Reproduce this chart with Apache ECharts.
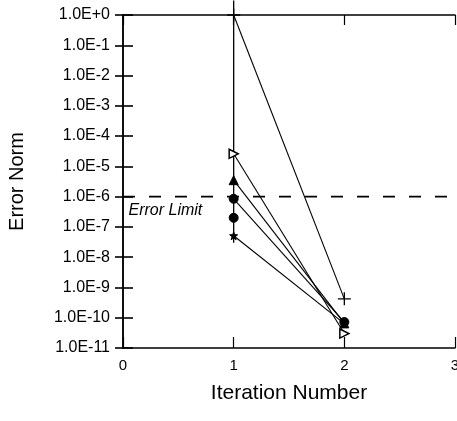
<!DOCTYPE html>
<html>
<head>
<meta charset="utf-8">
<script src="https://cdn.jsdelivr.net/npm/echarts@6/dist/echarts.min.js"></script>
<style>
html,body{margin:0;padding:0;background:#fff;}
#chart{width:457px;height:421px;}
</style>
</head>
<body>
<div id="chart"></div>
<script>
// values
var iterations = [1, 2];
var plusData = [1.0, 4.2e-10];
var triRightData = [2.6e-5, 3.0e-11];
var triUpData = [3.5e-6, 6.5e-11];
var diamondData = [8.5e-7, 7.2e-11];
var circleData = [2.0e-7];
var starData = [5.1e-8, 6.4e-11];
var barAtOne = [3.0, 3.0e-8];     // vertical line through iteration 1
var errorLimit = 1e-6;
var xRange = [0, 3];

var plusPath = 'path://M0,5L10,5M5,0L5,10';
var starPath = 'path://M5,0L6.2,3.6L10,3.8L7,6.1L8.1,10L5,7.7L1.9,10L3,6.1L0,3.8L3.8,3.6Z';
var fontName = '"Liberation Sans", Arial, sans-serif';

function pairs(vals){
	var out = [];
	for(var i=0; i<vals.length; i++) out.push([iterations[i], vals[i]]);
	return out;
}

function mkseries(name, vals, symbol, size, extra){
	var s = {
		name: name,
		type: 'line',
		data: pairs(vals),
		symbol: symbol,
		symbolSize: size,
		showAllSymbol: true,
		lineStyle: {color: '#000', width: 1.1},
		itemStyle: {color: '#000', borderColor: '#000', borderWidth: 1},
		z: 5
	};
	for(var k in extra) s[k] = extra[k];
	return s;
}

var myChart = echarts.init(document.getElementById('chart'));

var option = {
	animation: false,
	backgroundColor: '#fff',
	grid: {left: 123, right: 2, top: 15, bottom: 73, containLabel: false, outerBoundsMode: 'none'},
	xAxis: [{
		type: 'value', min: xRange[0], max: xRange[1], interval: 1,
		name: 'Iteration Number', nameLocation: 'middle', nameGap: 35,
		nameTextStyle: {fontFamily: fontName, fontSize: 21, color: '#000'},
		axisLine: {lineStyle: {color: '#000', width: 1.5}},
		axisTick: {inside: true, length: 11, lineStyle: {color: '#000', width: 1.2}},
		axisLabel: {fontFamily: fontName, fontSize: 15, color: '#000', margin: 10},
		splitLine: {show: false}
	}, {
		type: 'value', min: xRange[0], max: xRange[1], interval: 1, position: 'top',
		axisLine: {lineStyle: {color: '#000', width: 1.5}},
		axisTick: {inside: true, length: 10, lineStyle: {color: '#000', width: 1.2}},
		axisLabel: {show: false},
		splitLine: {show: false}
	}],
	yAxis: [{
		type: 'log', logBase: 10, min: 1e-11, max: 1, interval: 1,
		name: 'Error Norm', nameLocation: 'middle', nameGap: 96, nameRotate: 90,
		nameTextStyle: {fontFamily: fontName, fontSize: 20, color: '#000'},
		axisLine: {lineStyle: {color: '#000', width: 1.5}},
		axisTick: {inside: true, length: 10, lineStyle: {color: '#000', width: 1.6}},
		axisLabel: {
			fontFamily: fontName, fontSize: 16, color: '#000', margin: 13,
			formatter: function(v){
				var e = Math.round(Math.log(v) / Math.LN10);
				return '1.0E' + (e >= 0 ? '+' + e : e);
			}
		},
		splitLine: {show: false}
	}, {
		type: 'log', logBase: 10, min: 1e-11, max: 1, interval: 1, position: 'right',
		axisLine: {lineStyle: {color: '#000', width: 1.5}},
		axisTick: {inside: true, length: 8, lineStyle: {color: '#000', width: 1.6}},
		axisLabel: {show: false},
		splitLine: {show: false}
	}],
	series: [
		{
			name: 'bar1', type: 'line', data: [[1, barAtOne[0]], [1, barAtOne[1]]], symbol: 'none',
			clip: false, lineStyle: {color: '#000', width: 1.3}, z: 4
		},
		{
			name: 'limit', type: 'line',
			data: [
				{value: [xRange[0], errorLimit], label: {
					show: true, position: 'right', distance: 5, offset: [0, 14],
					formatter: 'Error Limit', fontFamily: fontName, fontSize: 16,
					fontStyle: 'italic', color: '#000'
				}},
				[xRange[1], errorLimit]
			],
			symbol: 'circle', symbolSize: 1, showAllSymbol: true,
			itemStyle: {color: 'rgba(0,0,0,0)'},
			lineStyle: {color: '#000', width: 1.6, type: [12, 14]},
			z: 3
		},
		mkseries('plus', plusData, plusPath, 13, {itemStyle: {color: 'none', borderColor: '#000', borderWidth: 1.3}}),
		mkseries('triRight', triRightData, 'triangle', 9, {symbolRotate: -90, itemStyle: {color: '#fff', borderColor: '#000', borderWidth: 1.5}}),
		mkseries('triUp', triUpData, 'triangle', 9),
		mkseries('diamond', diamondData, 'circle', 9),
		mkseries('circle', circleData, 'circle', 9),
		mkseries('star', starData, starPath, 8)
	]
};
myChart.setOption(option);
</script>
</body>
</html>
